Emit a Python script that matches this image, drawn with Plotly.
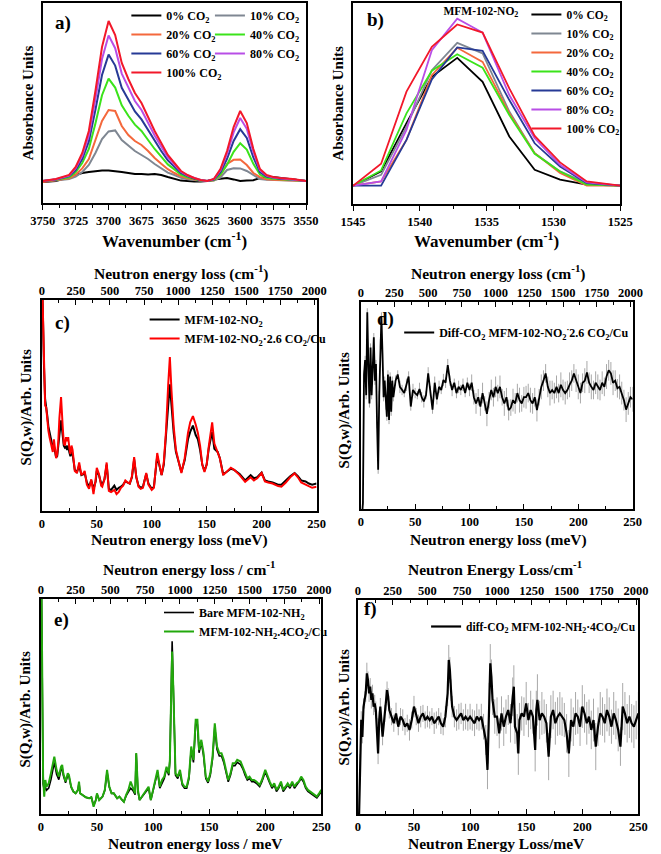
import plotly.graph_objects as go

# ---------------- DATA ----------------
# Panel a (FTIR, 3750-3550 cm-1)
a_x = [3750, 3740, 3730, 3725, 3720, 3715, 3710, 3705, 3700, 3695, 3690, 3685, 3680, 3675, 3670, 3665, 3660, 3655, 3650, 3645,
       3640, 3635, 3630, 3625, 3620, 3615, 3610, 3605, 3600, 3595, 3590, 3585, 3580, 3575, 3570, 3560, 3550]
a_0 = [10.5, 11, 13, 14, 15, 15.5, 16, 16.3, 16.3, 16, 15.5, 15, 14.5, 14.5, 14.3, 14.5, 14, 13, 12, 11.2,
       11, 10.7, 10.8, 11, 11.8, 12.3, 12.5, 11.8, 11, 11.2, 11.4, 12.5, 13, 13, 12.6, 12, 11]
a_10 = [11, 11.3, 12, 13.2, 15.5, 19, 25, 32, 35.8, 36.3, 31.5, 28.5, 26, 24, 22, 19.5, 17.5, 15.2, 14, 12.6,
        11.9, 11.4, 11.1, 11, 11.2, 12.8, 16.5, 17.4, 17.3, 16, 13.8, 12, 11.6, 11.5, 11.5, 11.5, 11]
a_20 = [10.5, 11.4, 12.4, 14.2, 17.3, 22, 31, 41, 46.5, 46, 38.5, 34, 31, 29, 26, 22.5, 19.6, 16.9, 15, 13.3,
        12.4, 11.7, 11.2, 11, 11.3, 14, 19.5, 21.6, 21.8, 19, 15, 12.9, 11.9, 11.6, 11.5, 11.3, 11]
a_40 = [11, 11.6, 12.9, 15.5, 20, 27, 39.8, 53.9, 62.2, 57.7, 48.8, 43.6, 39.2, 36, 31.5, 27, 23.2, 19.3, 16.8, 14.2,
        12.9, 12, 11.3, 11, 11.5, 14.2, 19.1, 25.6, 29.9, 26.7, 19.6, 14.2, 12.6, 12.1, 11.8, 11.5, 11]
a_60 = [11, 11.8, 13.4, 16.5, 22, 30.8, 46.6, 64, 74.2, 68.7, 57.6, 51.3, 45.8, 41.8, 36.3, 30.8, 26, 21.3, 18.1, 15,
        13.4, 12.2, 11.4, 11, 11.7, 15.4, 22.1, 31, 36.9, 32.5, 22.8, 15.4, 13.2, 12.5, 12.1, 11.7, 11]
a_80 = [11, 11.9, 13.7, 17.4, 23.7, 33.8, 52, 72, 83.8, 77.4, 64.7, 57.4, 51, 46.5, 40, 33.8, 28.3, 22.8, 19.2, 15.6,
        13.7, 12.4, 11.5, 11, 11.9, 16.4, 24.5, 35.3, 42.5, 37.1, 25.4, 16.4, 13.7, 12.8, 12.4, 11.9, 11]
a_100 = [11, 12, 14, 18, 25, 36, 56, 78, 91, 84, 70, 62, 55, 50, 43, 36, 30, 24, 20, 16,
         14, 12.5, 11.5, 11, 12, 17, 26, 38, 46, 40, 27, 17, 14, 13, 12.5, 12, 11]

# Panel b (FTIR, 1545-1525 cm-1)
b_x = [1545.0, 1542.9, 1541.0, 1539.1, 1537.2, 1535.3, 1533.3, 1531.4, 1529.5, 1527.5, 1525.0]
b_0 = [9.1, 16.2, 40.2, 63.3, 72.7, 60.8, 33.6, 17, 12.1, 9.6, 9.1]
b_10 = [9.1, 14.5, 38.5, 66.6, 80.2, 74.9, 46, 25.3, 16.2, 10.4, 9.1]
b_20 = [9.1, 11.2, 31.9, 64.1, 77.7, 70.7, 45.1, 25.3, 15.4, 9.1, 9.1]
b_40 = [9.1, 16.7, 45.1, 66.3, 74.5, 67.8, 44.3, 25, 16.2, 9.6, 9.1]
b_60 = [9.1, 9.1, 31.9, 62, 77.9, 76.2, 51.7, 30.2, 18.7, 10.4, 9.1]
b_80 = [9.1, 11.2, 36.9, 76.5, 92.2, 85.3, 54.2, 32.7, 19.5, 10.7, 9.1]
b_100 = [9.1, 20, 55.9, 78.2, 89.3, 85.3, 57.5, 33.9, 20.7, 11.2, 9.1]

pct_labels = ["0%", "10%", "20%", "40%", "60%", "80%", "100%"]

# Panel c (INS, MFM-102-NO2)
c_x = [0.5, 1, 2, 3, 4, 5, 6, 7, 8, 9, 10, 11, 12, 13, 14, 15, 16, 17.5, 19, 20,
       21, 22, 23, 24, 25, 26, 27, 28, 30, 32, 34, 36, 38, 39, 41, 43, 45, 47, 49, 50,
       52, 54, 55, 57, 59, 61, 63, 66, 68, 70, 72, 74, 76, 78, 80, 82, 84, 86, 88, 90,
       92, 95, 97, 100, 102, 105, 107, 109, 111, 113, 115, 116.5, 118, 120, 122, 125, 127, 130, 133, 135,
       137.5, 140, 142, 144, 146, 148, 150, 152, 155, 157, 160, 162, 165, 168, 172, 175, 180, 185, 188, 190,
       193, 196, 200, 203, 206, 210, 215, 218, 222, 226, 230, 233, 236, 240, 243, 246, 250]
c_bare = [105, 90, 68, 53, 50, 45, 40, 37, 35, 33, 30, 31, 28, 25.5, 26, 30, 36, 43, 36, 31,
          30, 30.5, 29, 31, 28, 26, 28, 27, 19.5, 18.5, 21.5, 17, 17.5, 18, 13.5, 11.5, 14.5, 10.5, 14, 19,
          17, 13, 12.5, 15, 22, 10.5, 10, 12, 10, 11, 11.5, 12.5, 14, 13.5, 13, 16, 24.5, 16, 12, 11,
          11.5, 17.5, 13, 10.5, 11.5, 26, 22, 17, 22, 34, 50, 60, 50, 37, 28, 23, 18.5, 24, 34, 37.5,
          40.5, 36, 34, 29, 22, 19, 22, 30, 37.5, 29.5, 28, 25, 17.5, 18.5, 20, 19.5, 17.5, 14.5, 16, 17,
          15.5, 16, 18.2, 14.5, 14, 13.5, 12.5, 12.5, 14.5, 16.5, 18, 16.5, 14.5, 14, 13, 12.5, 13]
c_co2 = [105, 92, 65, 50, 49, 42, 38, 35, 33, 30, 28, 34, 29, 25, 27, 33, 44, 54, 40, 32,
         31, 35, 33, 35, 30, 27, 31, 29, 19, 18, 23, 17, 18, 19, 12.5, 10.5, 15, 8, 15, 20.5,
         17.5, 12, 11.5, 15, 23, 9.5, 9, 10, 8, 9, 11, 12, 14.5, 13.5, 13, 16.5, 25.5, 16, 11.5, 10.5,
         11, 18, 12.5, 10, 11, 27.5, 22, 17, 23, 38, 60, 73, 57, 40, 29, 23, 18, 25, 37, 42,
         45, 41, 37, 31, 22, 18.5, 22, 31, 42, 32, 28, 25, 17, 18.5, 20.5, 19.5, 17, 13.8, 15, 16,
         14.5, 15.5, 18, 14, 13.5, 13, 11.8, 11.5, 13.5, 16, 17.8, 16, 13.5, 12.5, 11.5, 11, 11.5]

# Panel d (difference spectrum, NO2)
d_x = [1, 2, 3, 4, 5, 6, 7, 8, 9, 10, 11, 12, 13, 14, 15, 16, 17, 18, 19, 20,
       21, 22, 23, 24, 25, 26, 27, 28, 29, 30,
       32, 34, 36, 38, 40, 42, 44, 46, 48, 50, 52, 54, 56, 58, 60, 62, 64, 66, 68, 70,
       72, 74, 76, 78, 80, 82, 84, 86, 88, 90, 92, 94, 96, 98, 100, 102, 104, 106, 108, 110,
       112, 114, 116, 118, 120, 122, 124, 126, 128, 130, 132, 134, 136, 138, 140, 142, 144, 146, 148, 150,
       152, 154, 156, 158, 160, 162, 164, 166, 168, 170, 172, 174, 176, 178, 180, 182, 184, 186, 188, 190,
       192, 194, 196, 198, 200, 202, 204, 206, 208, 210, 212, 214, 216, 218, 220, 222, 224, 226, 228, 230,
       232, 234, 236, 238, 240, 242, 244, 246, 248, 250]
d_y = [-5, 3, 65, 72, 55, 95, 70, 51, 78, 55, 68, 83, 62, 70, 41, 19, 55, 80, 93, 75,
       54, 62, 50, 44.6, 65, 43, 64, 47, 62, 54,
       62, 65, 59, 57.5, 56, 60, 64, 49.5, 57.5, 56,
       55, 58, 54, 52, 55, 65.5, 57, 48, 61, 53,
       59, 57.5, 62.3, 61, 69.5, 62, 57.5, 61, 56, 59,
       57.5, 60, 56, 61, 57.5, 61, 54, 51, 54, 49.5,
       56, 51, 46, 52.6, 57.5, 54, 59, 56, 59, 54,
       51, 54, 47.8, 49, 52.6, 51, 56, 52.6, 51, 54,
       54, 56, 52.6, 51, 54, 47.8, 54, 59, 62, 65.5,
       59, 56, 57.5, 56, 59, 56, 60, 57.5, 56, 57.5,
       60, 62, 65.5, 62, 59, 56, 61, 62, 66, 61,
       59, 57.5, 61, 59, 57.5, 61, 59, 64, 67, 65.5,
       61, 62, 58.3, 59, 56, 52.6, 48, 51, 54, 53]
d_err = [0, 1, 2, 2, 2, 2, 2, 2, 2, 2, 2, 2, 2, 2, 2, 2, 2, 2, 2, 2,
         2, 2, 2, 2, 2, 2, 2, 2, 2, 2,
         2.5, 2, 3, 2.5, 2, 3, 2.5, 2, 3, 2.5, 2, 3, 2.5, 3, 2, 3, 2.5, 2, 3, 2.5,
         3, 2, 3, 2.5, 3, 2.5, 3, 2, 2.5, 3, 2.5, 3, 2, 2.5, 3,
         4, 3.5, 5, 4, 4.5, 5, 3.5, 6, 4, 5, 4.5, 5, 4, 5.5, 4, 6, 4.5, 5, 4, 5.5,
         5, 4.5, 6, 4, 5, 5.5, 4.5, 6, 5, 4.5, 5.5, 4, 6, 5, 4.5, 5, 6, 4.5, 5, 5.5,
         4.5, 6, 5, 5.5, 4.5, 6, 5, 4.5, 5.5, 6, 5, 4.5, 6, 5.5, 5, 6, 4.5, 5.5, 6, 5,
         5.5, 4.5, 6, 5, 5.5, 6, 5, 4.5, 6, 5.5, 5, 6, 5.5, 5, 6]

# Panel e (INS, MFM-102-NH2)
e_x = [0.5, 1, 2, 3, 4, 5, 7, 9, 11, 12, 14, 16, 18, 19, 20, 22, 24, 25, 27, 29,
       31, 33, 34, 35, 37, 40, 43, 45, 47, 49, 50, 52, 55, 57, 59, 61, 63, 65, 68, 70,
       72, 74, 76, 78, 80, 82, 84, 85, 86.5, 88, 90, 92, 94, 96, 98, 100, 102, 104, 106, 108,
       110, 112, 114, 115, 116, 117, 118, 119, 120, 122, 124, 126, 128, 130, 132, 134, 136, 138, 139.5, 141,
       143, 145, 147, 149, 151, 153, 155, 157, 159, 161, 163, 165, 167, 169, 171, 173, 175, 178, 180, 182,
       184, 186, 188, 190, 192, 195, 197, 200, 202, 204, 206, 208, 210, 212, 214, 216, 218, 220, 222, 224,
       226, 228, 230, 232, 234, 236, 238, 240, 242, 244, 246, 248, 250]
e_bare = [110, 60, 14, 11, 12.5, 11, 12, 16, 21, 24, 18.5, 16, 20.5, 21.5, 18, 14.5, 18, 17.5, 12.5, 10.4,
          9.6, 11, 14.5, 9.6, 8.9, 7.8, 7.3, 7.8, 4, 6.5, 9.3, 6.5, 8.1, 11, 19.5, 12.5, 9.6, 9.6, 7.3, 8.1,
          6.8, 5.7, 8.5, 10, 12, 11, 9, 28, 10.5, 6.5, 7.8, 9, 10.5, 12, 6.5, 10.5, 14.5, 19.5, 12, 14.5,
          16.5, 21, 18, 25, 55, 80.3, 60, 36, 18, 16.5, 19.5, 13.5, 12, 12, 16.5, 30, 24, 42, 41.5, 28.5,
          33.5, 27, 16.5, 14.5, 18, 25.5, 40.5, 30, 27, 27, 24, 19.5, 15, 18, 22.5, 22.5, 24, 23, 21, 18,
          15.8, 16.5, 15, 15, 14.3, 12.7, 15, 19.5, 16.5, 14.3, 12, 13.5, 10.5, 12, 14.3, 10.5, 12, 13.5, 12, 14.3,
          12, 13.5, 14.5, 16.5, 15, 12, 10.5, 9.8, 9, 8.3, 7.5, 8.9, 10.5]
e_co2 = [110, 56, 17.4, 8.1, 15.8, 12.7, 14.3, 19, 23.6, 26.7, 20.5, 17.4, 22, 22.8, 18.9, 15.1, 18.9, 18.2, 12.7, 10.4,
         9.6, 11.2, 15.1, 9.6, 8.9, 7.8, 7.3, 7.8, 3.4, 6.5, 9.6, 6.5, 8.1, 11.2, 20.5, 12.7, 9.6, 9.6, 7.3, 8.1,
         6.8, 5.7, 8.9, 11.2, 15.1, 12.7, 9.6, 28.3, 11.2, 6.5, 8.1, 9.6, 11.2, 12.7, 6.5, 11.2, 15.8, 20.5, 12.7, 15.8,
         17.4, 22, 18.9, 25.2, 51.6, 75.6, 59.3, 37.6, 18.9, 17.4, 20.5, 14.3, 12.7, 12.7, 17.4, 31.4, 25.2, 43.8, 43.8, 29.8,
         34.5, 28.3, 17.4, 15.1, 18.9, 26.7, 42.2, 31.4, 28.3, 28.3, 25.2, 20.5, 15.8, 18.9, 23.6, 23.6, 25.2, 24.4, 22, 18.9,
         16.6, 17.4, 15.8, 15.8, 15.1, 13.5, 15.8, 20.5, 17.4, 15.1, 12.7, 14.3, 11.2, 12.7, 15.1, 11.2, 12.7, 14.3, 12.7, 15.1,
         12.7, 14.3, 15.1, 17.4, 15.8, 12.7, 11.2, 10.4, 9.6, 8.9, 8.1, 9.6, 11.2]

# Panel f (difference spectrum, NH2)
f_x = [1, 2, 3, 4, 5, 6, 7, 8, 9, 10, 11, 12, 13, 14, 15, 16, 17, 18, 19, 20,
       22, 24, 25, 26, 27, 28,
       30, 32, 34, 36, 38, 40, 42, 44, 46, 48, 50, 52, 54, 56, 58, 60, 62, 64, 66, 68,
       70, 72, 74, 76, 78, 80, 81, 82, 83, 84,
       86, 88, 90, 92, 94, 96, 98, 100, 102, 104, 106, 108, 110, 112, 114,
       115.5, 116, 117, 118, 119,
       120, 122, 124, 126, 128, 130, 132, 134, 136, 138, 139, 140, 142, 143, 144,
       146, 148, 150, 152, 154, 156, 158, 159,
       160, 162, 164, 166, 168, 170, 172, 174, 176, 178, 180, 182, 184, 186, 188, 190, 192, 194, 196, 198,
       200, 202, 204, 206, 208, 210, 212, 214, 216, 218, 220, 222, 224, 226, 228, 230, 232, 234, 236, 238,
       240, 242, 244, 246, 248, 250]
f_y = [-2, 25, 44, 36, 50, 53.3, 56.4, 65.7, 62.6, 56.4, 59.5, 53.3, 56.4, 50.2, 51.7, 48.6, 40.8, 28.3, 43.9, 50.2,
       36.1, 47, 53.3, 57.9, 54.8, 48.6,
       45.5, 42.4, 47, 40.8, 45.5, 43.9, 40.8, 42.4, 39.3, 43.9, 50.2, 45.5, 42.4, 45.5, 47, 43.9, 45.5, 43.9, 45.5, 42.4,
       43.9, 45.5, 42.4, 40.8, 45.5, 56.4, 72, 67.3, 57.9, 50.2,
       45.5, 43.9, 45.5, 47, 43.9, 45.5, 43.9, 45.5, 43.9, 42.4, 45.5, 43.9, 45.5, 40.8, 34.6,
       20.6, 31.5, 53.3, 70.4, 64.2,
       53.3, 45.5, 45.5, 37.7, 47, 40.8, 45.5, 48.6, 42.4, 54.8, 59.5, 40.8, 37.7, 28.3, 43.9,
       47, 45.5, 51.7, 43.9, 48.6, 45.5, 29.9, 48.6,
       53.3, 43.9, 47, 45.5, 42.4, 26.8, 45.5, 48.6, 42.4, 45.5, 47, 45.5, 43.9, 37.7, 28.3, 43.9, 40.8, 47, 45.5, 40.8,
       50.2, 47, 42.4, 45.5, 39.3, 43.9, 31.5, 40.8, 47, 45.5, 42.4, 48.6, 45.5, 40.8, 47, 43.9, 39.3, 31.5, 50.2, 47,
       42.4, 45.5, 42.4, 40.8, 43.9, 47]
f_err = [0, 3, 4, 3, 4, 4, 4, 5, 4, 4, 4, 4, 4, 4, 4, 4, 4, 5, 4, 4,
         4, 4, 5, 4, 4, 4,
         4, 4, 5, 4, 4, 5, 4, 4, 5, 4, 5, 4, 4, 5, 4, 4, 5, 4, 4, 5,
         4, 4, 5, 4, 5, 6, 7, 6, 5, 5,
         5, 5, 6, 5, 5, 6, 5, 6, 5, 6, 6, 5, 6, 6, 7,
         9, 8, 8, 9, 8,
         7, 8, 9, 7, 8, 9, 8, 7, 9, 9, 10, 8, 9, 10, 8,
         8, 9, 10, 8, 9, 8, 10, 9,
         12, 9, 10, 8, 9, 11, 10, 9, 10, 9, 10, 9, 8, 9, 11, 10, 9, 10, 8, 9,
         10, 9, 10, 8, 9, 10, 11, 9, 10, 9, 9, 10, 9, 8, 10, 9, 10, 9, 11, 10,
         9, 10, 9, 10, 9, 10]

# ---------------- FIGURE ----------------
W, H = 661, 854
FONT = "Liberation Serif"


def px(x):
    return x / W


def py(y):
    return 1 - y / H


def fnt(size, color="black"):
    return dict(family=FONT, size=size, color=color, weight="bold")


fig = go.Figure()

ftir_colors = ["#000000", "#7f8792", "#f4683c", "#3be31a", "#263a96", "#b84ee6", "#f2182a"]
a_series = [a_0, a_10, a_20, a_40, a_60, a_80, a_100]
a_leg = ["legend", "legend2", "legend", "legend2", "legend", "legend2", "legend"]
for lab, ys, col, lg in zip(pct_labels, a_series, ftir_colors, a_leg):
    fig.add_trace(go.Scatter(x=a_x, y=ys, mode="lines", name=f"{lab} CO<sub>2</sub>",
                             line=dict(color=col, width=2), xaxis="x", yaxis="y", legend=lg))

b_series = [b_0, b_10, b_20, b_40, b_60, b_80, b_100]
for lab, ys, col in zip(pct_labels, b_series, ftir_colors):
    fig.add_trace(go.Scatter(x=b_x, y=ys, mode="lines", name=f"{lab} CO<sub>2</sub>",
                             line=dict(color=col, width=1.8), xaxis="x2", yaxis="y2", legend="legend3"))

# c
fig.add_trace(go.Scatter(x=c_x, y=c_bare, mode="lines", name="MFM-102-NO<sub>2</sub>",
                         line=dict(color="black", width=2), xaxis="x3", yaxis="y3", legend="legend4"))
fig.add_trace(go.Scatter(x=c_x, y=c_co2, mode="lines", name="MFM-102-NO<sub>2</sub>·2.6 CO<sub>2</sub>/Cu",
                         line=dict(color="#ff0000", width=2), xaxis="x3", yaxis="y3", legend="legend4"))
# d
fig.add_trace(go.Scatter(x=d_x, y=d_y, mode="lines",
                         name="Diff-CO<sub>2</sub> MFM-102-NO<sub>2</sub><sup>·</sup>2.6 CO<sub>2</sub>/Cu",
                         line=dict(color="black", width=1.8),
                         error_y=dict(type="data", array=d_err, color="#a8a8a8", thickness=1, width=0),
                         xaxis="x4", yaxis="y4", legend="legend5"))
# e
fig.add_trace(go.Scatter(x=e_x, y=e_bare, mode="lines", name="Bare MFM-102-NH<sub>2</sub>",
                         line=dict(color="black", width=1.6), xaxis="x5", yaxis="y5", legend="legend6"))
fig.add_trace(go.Scatter(x=e_x, y=e_co2, mode="lines", name="MFM-102-NH<sub>2</sub>.4CO<sub>2</sub>/Cu",
                         line=dict(color="#22a80c", width=2), xaxis="x5", yaxis="y5", legend="legend6"))
# f
fig.add_trace(go.Scatter(x=f_x, y=f_y, mode="lines",
                         name="diff-CO<sub>2</sub> MFM-102-NH<sub>2</sub>·4CO<sub>2</sub>/Cu",
                         line=dict(color="black", width=2.2),
                         error_y=dict(type="data", array=f_err, color="#a8a8a8", thickness=1, width=0),
                         xaxis="x6", yaxis="y6", legend="legend7"))

# invisible traces to activate top (cm-1) axes
for xa, ya in [("x7", "y3"), ("x8", "y4"), ("x9", "y5"), ("x10", "y6")]:
    fig.add_trace(go.Scatter(x=[None], y=[None], xaxis=xa, yaxis=ya, showlegend=False, hoverinfo="skip"))

# ---------------- AXES ----------------
panels = {
    1: dict(x0=31, x1=305, y0=3, y1=203),
    2: dict(x0=354, x1=632, y0=3, y1=204),
    3: dict(x0=30, x1=316, y0=300, y1=511),
    4: dict(x0=362, x1=645, y0=302, y1=509),
    5: dict(x0=29, x1=321, y0=599, y1=814),
    6: dict(x0=359, x1=651, y0=600, y1=814),
}
TICK = 12.5

layout = {}
for i, p in panels.items():
    xs = "xaxis" if i == 1 else f"xaxis{i}"
    ys = "yaxis" if i == 1 else f"yaxis{i}"
    yid = "y" if i == 1 else f"y{i}"
    xid = "x" if i == 1 else f"x{i}"
    lw = 1.5 if i <= 2 else 2
    if i == 1:
        xr, dt, mdt, tdir = [3750, 3550], 25, 12.5, "outside"
    elif i == 2:
        xr, dt, mdt, tdir = [1545, 1525], 5, 2.5, "outside"
    else:
        xr, dt, mdt, tdir = [0, 250], 50, 25, "inside"
    layout[xs] = dict(domain=[px(p["x0"]), px(p["x1"])], range=xr, anchor=yid,
                      showline=True, linecolor="black", linewidth=lw, mirror=True,
                      showgrid=False, zeroline=False, ticks=tdir, ticklen=5, tickwidth=1.3,
                      tickcolor="black", dtick=dt, tick0=0, tickfont=fnt(TICK),
                      minor=dict(dtick=mdt, ticks=tdir, ticklen=3, tickwidth=1, tickcolor="black"))
    layout[ys] = dict(domain=[py(p["y1"]), py(p["y0"])], range=[0, 100], anchor=xid,
                      showline=True, linecolor="black", linewidth=lw, mirror=True,
                      showgrid=False, zeroline=False, showticklabels=False, ticks="")

for k, base in [(7, 3), (8, 4), (9, 5), (10, 6)]:
    layout[f"xaxis{k}"] = dict(overlaying=f"x{base}", side="top", anchor=f"y{base}", range=[0, 2016.4],
                               showline=False, showgrid=False, zeroline=False,
                               ticks="inside", ticklen=5, tickwidth=1.3, tickcolor="black",
                               dtick=250, tick0=0, tickfont=fnt(TICK), ticklabelstandoff=2,
                               minor=dict(dtick=125, ticks="inside", ticklen=3, tickwidth=1, tickcolor="black"))


def leg(x, y, size=12, **kw):
    d = dict(x=px(x), y=py(y), xanchor="left", yanchor="top", bgcolor="rgba(0,0,0,0)",
             font=fnt(size), tracegroupgap=0, borderwidth=0)
    d.update(kw)
    return d


layout["legend"] = leg(118, 1)
layout["legend2"] = leg(205, 1)
layout["legend3"] = leg(446, 0, size=11.5, title=dict(text="MFM-102-NO<sub>2</sub>", side="left", font=fnt(11.5)))
layout["legend4"] = leg(137, 305)
layout["legend5"] = leg(402, 318)
layout["legend6"] = leg(152, 598)
layout["legend7"] = leg(430, 612, size=11.5)

annotations = []


def ann(text, x, y, size, angle=0):
    annotations.append(dict(text=text, x=px(x), y=py(y), xref="paper", yref="paper",
                            xanchor="center", yanchor="middle", showarrow=False,
                            textangle=angle, font=fnt(size)))


# panel labels
ann("a)", 52, 23, 19)
ann("b)", 377, 20, 19)
ann("c)", 52, 323, 19)
ann("d)", 388, 319, 19)
ann("e)", 50, 620, 19)
ann("f)", 372, 609, 19)
# x titles
ann("Wavenumber (cm<sup>-1</sup>)", 168, 240, 17)
ann("Wavenumber (cm<sup>-1</sup>)", 493, 240, 17)
ann("Neutron energy loss (cm<sup>-1</sup>)", 175, 272, 15.5)
ann("Neutron energy loss (cm<sup>-1</sup>)", 505, 272, 15.5)
ann("Neutron energy loss (meV)", 173, 540, 15.5)
ann("Neutron energy loss (meV)", 505, 540, 15.5)
ann("Neutron energy loss / cm<sup>-1</sup>", 183, 568, 15.5)
ann("Neutron Energy Loss/cm<sup>-1</sup>", 502, 568, 15.5)
ann("Neutron energy loss / meV", 190, 843, 15.5)
ann("Neutron Energy Loss/meV", 503, 843, 15.5)
# y titles
ann("Absorbance Units", 16, 103, 15, -90)
ann("Absorbance Units", 338, 103, 15, -90)
ann("S(Q,w)/Arb. Units", 14, 407, 15, -90)
ann("S(Q,w)/Arb. Units", 345, 410, 15, -90)
ann("S(Q,w)/Arb. Units", 12, 710, 15, -90)
ann("S(Q,w)/Arb. Units", 345, 707, 15, -90)

fig.update_layout(**layout)
fig.update_layout(width=W, height=H, margin=dict(l=0, r=0, t=0, b=0),
                  paper_bgcolor="white", plot_bgcolor="white",
                  font=fnt(12), annotations=annotations, showlegend=True)

fig.write_html("out.html")
